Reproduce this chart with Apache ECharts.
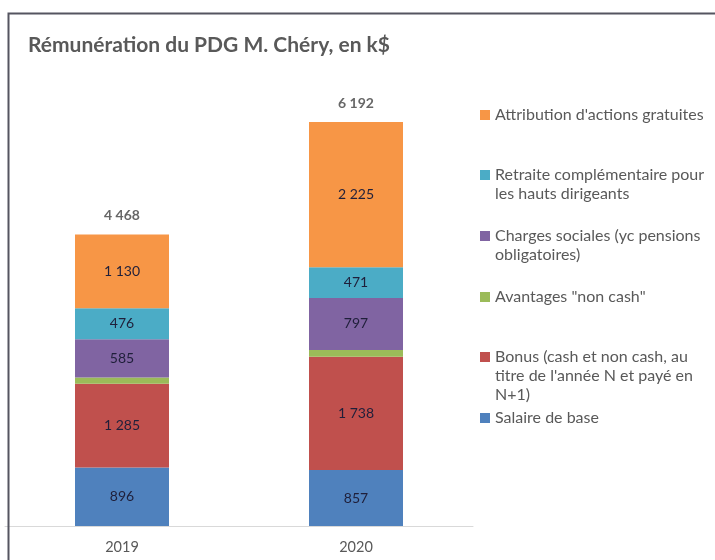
<!DOCTYPE html>
<html><head><meta charset="utf-8">
<script src="https://cdn.jsdelivr.net/npm/echarts@6/dist/echarts.min.js"></script>
<style>html,body{margin:0;padding:0;background:#fff}#c{width:715px;height:560px}</style>
</head><body><div id="c"></div>
<script>
var categories = ['2019', '2020'];
var salaire = [896, 857];
var bonus = [1285, 1738];
var avantages = [96, 104];
var charges = [585, 797];
var retraite = [476, 471];
var attribution = [1130, 2225];
var totals = [4468, 6192];

var names = {
  salaire: 'Salaire de base',
  bonus: "Bonus (cash et non cash, au\ntitre de l'année N et payé en\nN+1)",
  avantages: 'Avantages "non cash"',
  charges: 'Charges sociales (yc pensions\nobligatoires)',
  retraite: 'Retraite complémentaire pour\nles hauts dirigeants',
  attribution: "Attribution d'actions gratuites"
};
var colors = {
  salaire: '#4F81BD', bonus: '#C0504D', avantages: '#9BBB59',
  charges: '#8064A2', retraite: '#4BACC6', attribution: '#F79646'
};
function fmt(v){ return String(v).replace(/\B(?=(\d{3})+(?!\d))/g, ' '); }
var FONT = 'Lato, "Open Sans", sans-serif';
function barSeries(key, data, showLabel){
  return {
    name: names[key], type: 'bar', stack: 'total', data: data, barWidth: 94,
    itemStyle: {color: colors[key]},
    label: {show: showLabel, position: 'inside', color: '#1f1f3a', fontSize: 14, fontFamily: FONT,
      formatter: function(p){ return fmt(p.value); }}
  };
}
var LH = 19;
var legendOrder = ['attribution','retraite','charges','avantages','bonus','salaire'];
var markerCenters = [115, 175, 236, 297, 357, 418];
var legends = legendOrder.map(function(k, i){
  var n = names[k].split('\n').length;
  var top = markerCenters[i] - 5 - LH / 2 * (2 * n - 1);
  return {
    data: [names[k]], left: 475, top: top, orient: 'vertical',
    itemWidth: 10, itemHeight: 10, icon: 'rect', selectedMode: false, itemGap: 0,
    formatter: function(name){
      var pre = '';
      for (var j = 1; j < n; j++) pre += ' \n';
      return pre + name;
    },
    textStyle: {color: '#595959', fontSize: 16, fontFamily: FONT, lineHeight: LH}
  };
});
var chart = echarts.init(document.getElementById('c'));
chart.setOption({
  backgroundColor: '#fff',
  animation: false,
  title: {text: 'Rémunération du PDG M. Chéry, en k$', left: 23, top: 30,
    textStyle: {color: '#595959', fontSize: 21, fontWeight: 'bold', fontFamily: FONT}},
  legend: legends,
  grid: {left: 5, right: 242, top: 122, bottom: 34},
  xAxis: {type: 'category', data: categories,
    axisLine: {lineStyle: {color: '#d9d9d9'}}, axisTick: {show: false},
    axisLabel: {color: '#595959', fontSize: 14.5, fontFamily: FONT, margin: 14}},
  yAxis: {type: 'value', min: 0, max: 6192, show: false, splitLine: {show: false}},
  graphic: [{type: 'rect', shape: {x: 8.5, y: 13.5, width: 720, height: 560},
    style: {fill: 'none', stroke: '#555560', lineWidth: 2}, z: 100}],
  series: [
    barSeries('salaire', salaire, true),
    barSeries('bonus', bonus, true),
    barSeries('avantages', avantages, false),
    barSeries('charges', charges, true),
    barSeries('retraite', retraite, true),
    barSeries('attribution', attribution, true),
    {name: 'Total', type: 'scatter', data: totals, symbolSize: 0,
      label: {show: true, position: 'top', distance: 12, color: '#404040', fontSize: 14, fontWeight: 'bold', fontFamily: FONT,
        formatter: function(p){ return fmt(p.value); }}}
  ]
});
</script></body></html>
